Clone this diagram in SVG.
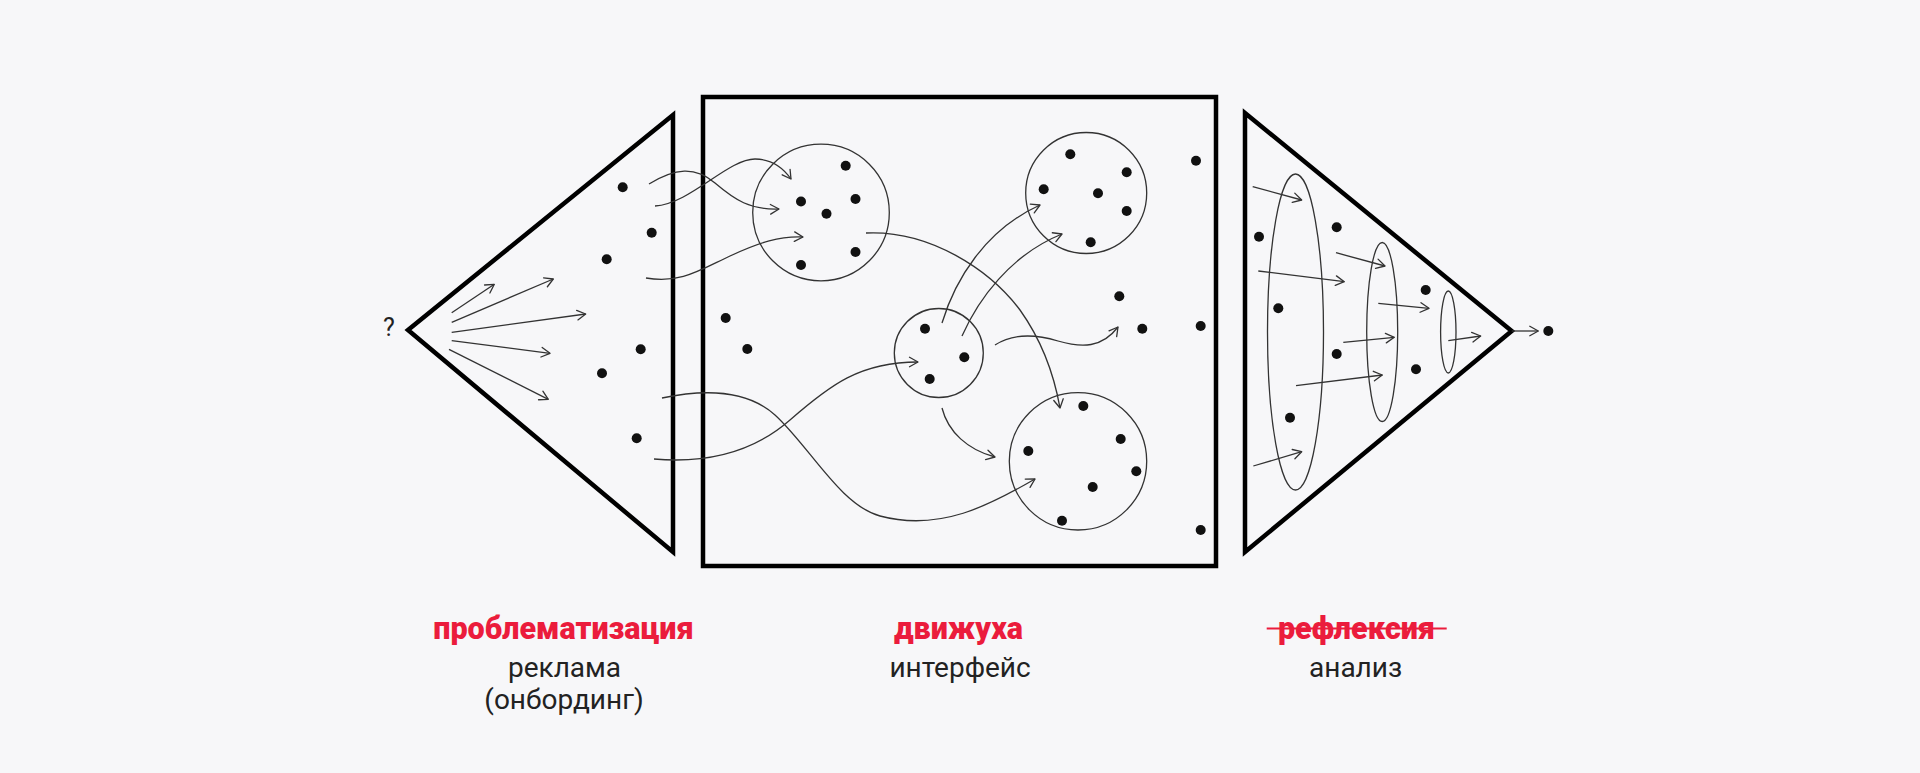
<svg xmlns="http://www.w3.org/2000/svg" width="1920" height="773" viewBox="0 0 1920 773">
<defs>
<marker id="ah" viewBox="-10 -6 12 12" refX="0" refY="0" markerWidth="12" markerHeight="12" markerUnits="userSpaceOnUse" orient="auto">
<path d="M-8.5,-4.8 L0,0 L-8.5,4.8" fill="none" stroke="#333" stroke-width="1.3" stroke-linecap="round" stroke-linejoin="round"/>
</marker>
<style>
.frame{fill:none;stroke:#000;stroke-width:4.5;stroke-linejoin:miter}
.ring{fill:none;stroke:#333;stroke-width:1.3}
.dot{fill:#111}
.con{fill:none;stroke:#333;stroke-width:1.3;marker-end:url(#ah)}
.red{font-family:Roboto,"Liberation Sans",sans-serif;font-weight:900;font-size:30.5px;fill:#EB1C3C;text-anchor:middle}
.sub{font-family:Roboto,"Liberation Sans",sans-serif;font-weight:400;font-size:28px;fill:#222;text-anchor:middle}
</style>
</defs>
<rect width="1920" height="773" fill="#F7F7F9"/>

<g id="left-triangle">
<polygon class="frame" points="408,330 673,115 673,552"/>
<text x="389" y="336" font-family="Roboto,'Liberation Sans',sans-serif" font-size="25" fill="#222" text-anchor="middle">?</text>
<circle class="dot" cx="622.7" cy="187.3" r="5"/>
<circle class="dot" cx="651.7" cy="232.7" r="5"/>
<circle class="dot" cx="606.7" cy="259.3" r="5"/>
<circle class="dot" cx="640.7" cy="349.3" r="5"/>
<circle class="dot" cx="602" cy="373.3" r="5"/>
<circle class="dot" cx="636.7" cy="438.3" r="5"/>
</g>

<g id="main-square">
<rect class="frame" x="703" y="97" width="513" height="469"/>
<circle class="dot" cx="725.7" cy="318" r="5"/>
<circle class="dot" cx="747.3" cy="349" r="5"/>
<circle class="dot" cx="1196" cy="160.7" r="5"/>
<circle class="dot" cx="1119.3" cy="296.3" r="5"/>
<circle class="dot" cx="1142.3" cy="328.7" r="5"/>
<circle class="dot" cx="1200.7" cy="326" r="5"/>
<circle class="dot" cx="1200.7" cy="530" r="5"/>
</g>

<g id="cluster-1">
<circle class="ring" cx="821" cy="212.5" r="68.3"/>
<circle class="dot" cx="845.7" cy="165.7" r="5"/>
<circle class="dot" cx="801" cy="201.5" r="5"/>
<circle class="dot" cx="855.5" cy="199" r="5"/>
<circle class="dot" cx="826.5" cy="213.7" r="5"/>
<circle class="dot" cx="855.5" cy="252" r="5"/>
<circle class="dot" cx="801" cy="265" r="5"/>
</g>

<g id="cluster-2">
<circle class="ring" cx="938.8" cy="353" r="44.5"/>
<circle class="dot" cx="925" cy="328.7" r="5"/>
<circle class="dot" cx="964.3" cy="357.3" r="5"/>
<circle class="dot" cx="929.7" cy="379" r="5"/>
</g>

<g id="cluster-3">
<circle class="ring" cx="1086.2" cy="193" r="60.5"/>
<circle class="dot" cx="1070.3" cy="154.3" r="5"/>
<circle class="dot" cx="1126.7" cy="172.3" r="5"/>
<circle class="dot" cx="1043.7" cy="189.3" r="5"/>
<circle class="dot" cx="1098" cy="193.3" r="5"/>
<circle class="dot" cx="1126.7" cy="211" r="5"/>
<circle class="dot" cx="1090.7" cy="242.3" r="5"/>
</g>

<g id="cluster-4">
<circle class="ring" cx="1078" cy="461.3" r="68.7"/>
<circle class="dot" cx="1083.3" cy="406" r="5"/>
<circle class="dot" cx="1120.7" cy="439" r="5"/>
<circle class="dot" cx="1028.3" cy="451" r="5"/>
<circle class="dot" cx="1136.3" cy="471.3" r="5"/>
<circle class="dot" cx="1092.7" cy="487" r="5"/>
<circle class="dot" cx="1062" cy="520.7" r="5"/>
</g>

<g id="right-triangle">
<polygon class="frame" points="1245,113 1511.7,331 1245,552"/>
<ellipse class="ring" cx="1295.5" cy="332" rx="28" ry="158"/>
<ellipse class="ring" cx="1382.2" cy="332" rx="15.5" ry="89.5"/>
<ellipse class="ring" cx="1448.3" cy="332" rx="7.7" ry="41"/>
<circle class="dot" cx="1259" cy="236.7" r="5"/>
<circle class="dot" cx="1336.7" cy="227.3" r="5"/>
<circle class="dot" cx="1278.3" cy="308.3" r="5"/>
<circle class="dot" cx="1425.7" cy="290" r="5"/>
<circle class="dot" cx="1336.7" cy="354" r="5"/>
<circle class="dot" cx="1416" cy="369.3" r="5"/>
<circle class="dot" cx="1290" cy="417.7" r="5"/>
</g>

<g id="result-dot">
<circle class="dot" cx="1548.3" cy="331" r="5"/>
</g>

<g id="connectors">
<path class="con" d="M451.7,312.7 L494.3,284.3"/>
<path class="con" d="M451.7,322.3 L553.3,279"/>
<path class="con" d="M451.7,332.3 L585.7,314"/>
<path class="con" d="M451.7,340.7 L550,353.3"/>
<path class="con" d="M449,349.3 L548.3,399.3"/>
<path class="con" d="M649,184 C675,168 695,166 715,183 C735,200 750,210 779,209"/>
<path class="con" d="M655,206 C690,204 728,159 755,159 C772,159 784,169 791,179"/>
<path class="con" d="M646,278 C680,284 700,270 730,256 C760,242 780,236 803,237"/>
<path class="con" d="M662,398 C700,390 745,388 775,415 C810,447 840,505 880,516 C940,532 990,505 1035,479"/>
<path class="con" d="M654,459 C700,463 750,455 790,420 C830,385 860,362 918,362"/>
<path class="con" d="M866,233 C930,230 990,270 1020,310 C1045,345 1055,380 1060,408"/>
<path class="con" d="M942,323 C955,280 985,230 1040,205"/>
<path class="con" d="M962,336 C978,300 1010,255 1062,234"/>
<path class="con" d="M995,345 C1012,334 1035,334 1058,341 C1082,348 1102,348 1118,327"/>
<path class="con" d="M942,408 C948,432 968,450 995,457"/>
<path class="con" d="M1252.7,186.7 L1301.7,200"/>
<path class="con" d="M1258.3,271 L1344.3,281.7"/>
<path class="con" d="M1336,252.7 L1385,266"/>
<path class="con" d="M1378.3,303.3 L1429,308.3"/>
<path class="con" d="M1343.3,342.3 L1394.3,337.3"/>
<path class="con" d="M1296,385.7 L1382.3,375"/>
<path class="con" d="M1253.3,466 L1301.7,451.7"/>
<path class="con" d="M1448.3,340.7 L1480.7,336"/>
<path class="con" d="M1511.7,331 L1538.3,331"/>
</g>

<g id="labels">
<text class="red" x="563.5" y="639">проблематизация</text>
<text class="sub" x="564.5" y="677">реклама</text>
<text class="sub" x="564" y="709">(онбординг)</text>
<text class="red" x="958.5" y="639">движуха</text>
<text class="sub" x="960" y="677">интерфейс</text>
<text class="red" x="1356.5" y="639">рефлексия</text>
<line x1="1266.7" y1="628.5" x2="1446.7" y2="628.5" stroke="#EB1C3C" stroke-width="2.2"/>
<text class="sub" x="1355.6" y="677">анализ</text>
</g>
</svg>
